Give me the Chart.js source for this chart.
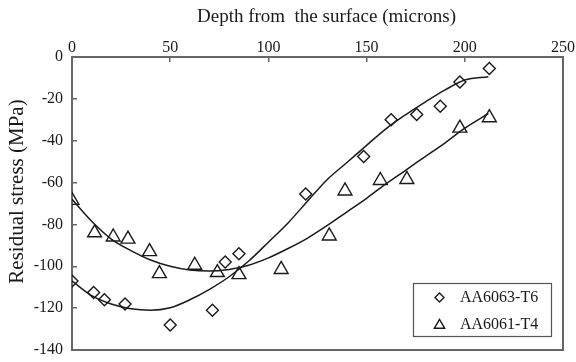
<!DOCTYPE html>
<html>
<head>
<meta charset="utf-8">
<script src="https://cdn.jsdelivr.net/npm/chart.js@4/dist/chart.umd.min.js"></script>
<style>
  html, body { margin: 0; padding: 0; background: #fff; }
  #wrap { width: 576px; height: 362px; }
</style>
</head>
<body>
<div id="wrap"><canvas id="stress"></canvas></div>
<script>
// measured residual stress vs depth
const seriesNames = ['AA6063-T6', 'AA6061-T4'];
const xTitle = 'Depth from  the surface (microns)';
const yTitle = 'Residual stress (MPa)';

const depthT6 = [0, 11, 16.5, 27, 50, 71.5, 78, 85, 119, 148.5, 162.5, 175.5, 187.5, 197.5, 212.5];
const stressT6 = [-107, -112.5, -116, -118, -128, -121, -98, -94, -65.5, -47.5, -30, -27.5, -23.5, -12, -5.5];

const depthT4 = [0, 11.5, 21, 28.5, 39.5, 44.5, 62.5, 74, 85, 106.5, 131, 139, 157, 170.5, 197.5, 212.5];
const stressT4 = [-68.5, -84, -86, -87, -93, -103.5, -99.5, -103, -104, -101.5, -85.5, -64, -59, -58.5, -34, -29];

// trend curves
const fitDepth = [0, 10, 20, 30, 40, 50, 60, 70, 80, 90, 100, 110, 120, 130, 140, 150, 160, 170, 180, 190, 200, 212];
const fitT6 = [-107, -114, -118, -120.3, -121, -119.8, -116, -111, -105, -97.5, -88.5, -79.3, -68.8, -58.5, -50.4, -42.2, -34.2, -27.5, -21.4, -15.7, -11, -9.4];
const fitT4 = [-68, -78.5, -87, -92.5, -97, -100, -101.8, -102.3, -101.5, -99.5, -96, -91.5, -86.5, -80.5, -74, -67.5, -60.5, -54, -47.5, -41, -34, -27];

const xTicks = [0, 50, 100, 150, 200, 250];
const yTicks = [0, -20, -40, -60, -80, -100, -120, -140];

const serif = '"Liberation Serif", "Times New Roman", serif';
const ink = '#1a1a1a';
const axisGray = '#666';

function points(xs, ys) {
  return xs.map((x, i) => ({ x: x, y: ys[i] }));
}

// right and bottom edges of the plot box
const frame = {
  id: 'frame',
  afterDraw(chart) {
    const a = chart.chartArea;
    const ctx = chart.ctx;
    ctx.save();
    ctx.strokeStyle = axisGray;
    ctx.lineWidth = 2;
    ctx.beginPath();
    ctx.moveTo(a.right, a.top - 1);
    ctx.lineTo(a.right, a.bottom);
    ctx.lineTo(a.left - 1, a.bottom);
    ctx.stroke();
    ctx.restore();
  }
};

// axis titles, nudged off-centre like the original figure
const axisTitles = {
  id: 'axisTitles',
  afterDraw(chart) {
    const a = chart.chartArea;
    const ctx = chart.ctx;
    ctx.save();
    ctx.fillStyle = ink;
    ctx.textAlign = 'center';
    ctx.textBaseline = 'middle';
    ctx.font = '19px ' + serif;
    ctx.fillText(xTitle, (a.left + a.right) / 2 + 9, 17);
    ctx.translate(17, (a.top + a.bottom) / 2 - 12);
    ctx.rotate(-Math.PI / 2);
    ctx.font = '21px ' + serif;
    ctx.fillText(yTitle, 0, 0);
    ctx.restore();
  }
};

// boxed legend sitting in the lower right corner
const boxLegend = {
  id: 'boxLegend',
  afterDraw(chart) {
    const a = chart.chartArea;
    const ctx = chart.ctx;
    const w = 138, h = 53;
    const left = a.right - 12 - w;
    const top = a.bottom - 14 - h;
    ctx.save();
    ctx.fillStyle = '#fff';
    ctx.fillRect(left, top, w, h);
    ctx.strokeStyle = '#555';
    ctx.lineWidth = 1.2;
    ctx.strokeRect(left + 0.5, top + 0.5, w, h);
    ctx.font = '16px ' + serif;
    ctx.textBaseline = 'middle';
    seriesNames.forEach((name, i) => {
      const ds = chart.data.datasets[i];
      const y = top + 14.6 + i * 26.7;
      ctx.fillStyle = 'rgba(0,0,0,0)';
      ctx.strokeStyle = ink;
      ctx.lineWidth = 1.4;
      Chart.helpers.drawPoint(ctx, {
        pointStyle: ds.pointStyle,
        radius: i === 0 ? 4.5 : 6,
        rotation: 0,
        borderWidth: 1.4
      }, left + 26.5, y + (i === 0 ? 0 : 1));
      ctx.fillStyle = ink;
      ctx.fillText(name, left + 47, y);
    });
    ctx.restore();
  }
};

const ctx = document.getElementById('stress');
new Chart(ctx, {
  type: 'scatter',
  data: {
    datasets: [
      {
        label: seriesNames[0],
        data: points(depthT6, stressT6),
        pointStyle: 'rectRot',
        pointRadius: 6,
        borderColor: ink,
        backgroundColor: 'rgba(0,0,0,0)',
        borderWidth: 1.4
      },
      {
        label: seriesNames[1],
        data: points(depthT4, stressT4),
        pointStyle: 'triangle',
        pointRadius: 8,
        borderColor: ink,
        backgroundColor: 'rgba(0,0,0,0)',
        borderWidth: 1.4
      },
      {
        label: 'fit T6',
        data: points(fitDepth, fitT6),
        showLine: true,
        pointRadius: 0,
        borderColor: ink,
        borderWidth: 1.5,
        cubicInterpolationMode: 'monotone'
      },
      {
        label: 'fit T4',
        data: points(fitDepth, fitT4),
        showLine: true,
        pointRadius: 0,
        borderColor: ink,
        borderWidth: 1.5,
        cubicInterpolationMode: 'monotone'
      }
    ]
  },
  options: {
    responsive: true,
    maintainAspectRatio: false,
    animation: false,
    layout: { padding: { left: 0, right: 13, top: 0, bottom: 12 } },
    plugins: {
      legend: { display: false },
      tooltip: { enabled: false }
    },
    scales: {
      x: {
        type: 'linear',
        position: 'top',
        min: 0,
        max: 250,
        afterBuildTicks: s => { s.ticks = xTicks.map(v => ({ value: v })); },
        afterFit: s => {
          s.height = 57;
          s.paddingLeft = 0;
          s.paddingRight = 0;
        },
        ticks: { color: ink, font: { family: serif, size: 16 }, padding: 5 },
        grid: { drawOnChartArea: false, drawTicks: true, tickLength: -5, color: axisGray, lineWidth: 1.5 },
        border: { display: true, color: axisGray, width: 2 }
      },
      y: {
        type: 'linear',
        min: -140,
        max: 0,
        afterBuildTicks: s => { s.ticks = yTicks.map(v => ({ value: v })); },
        afterFit: s => {
          s.width = 72;
          s.paddingTop = 0;
          s.paddingBottom = 0;
        },
        ticks: { color: ink, font: { family: serif, size: 16 }, padding: 14 },
        grid: { drawOnChartArea: false, drawTicks: true, tickLength: -5, color: axisGray, lineWidth: 1.5 },
        border: { display: true, color: axisGray, width: 2 }
      }
    }
  },
  plugins: [frame, axisTitles, boxLegend]
});
</script>
</body>
</html>
